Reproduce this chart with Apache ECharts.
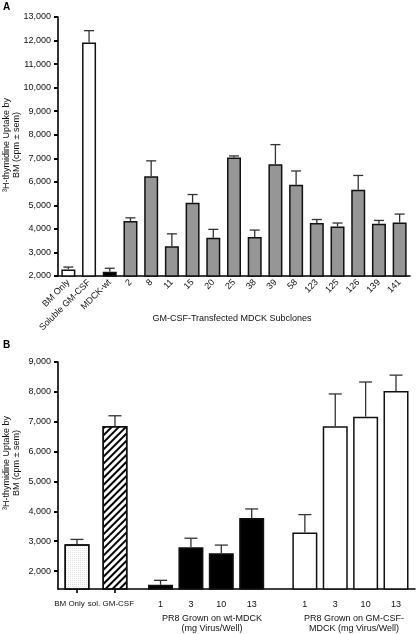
<!DOCTYPE html>
<html><head><meta charset="utf-8">
<script src="https://cdn.jsdelivr.net/npm/echarts@6/dist/echarts.min.js"></script>
<style>html,body{margin:0;padding:0;background:#fff}#c{width:416px;height:634px}</style>
</head><body><div id="c"></div>
<script>
// ---- Data: panel A ----
const catA = ['BM Only','Soluble GM-CSF','MDCK-wt','2','8','11','15','20','25','38','39','58','123','125','126','139','141'];
const valA = [2280,11920,2180,4340,6240,3260,5110,3620,7030,3660,6750,5880,4250,4100,5660,4220,4270];
const errA = [100,500,150,130,650,530,350,360,70,290,830,580,150,150,610,140,360];
const ticksA = [2000,3000,4000,5000,6000,7000,8000,9000,10000,11000,12000,13000];

// ---- Data: panel B ----
const catB = ['BM Only','sol. GM-CSF','1','3','10','13','1','3','10','13'];
const valB = [2900,6860,1540,2800,2600,3780,3290,6850,7170,8030];
const errB = [160,340,150,300,270,300,600,1080,1160,530];
const ticksB = [2000,3000,4000,5000,6000,7000,8000,9000];

// ---- Texts ----
const titleA = 'GM-CSF-Transfected MDCK Subclones';
const groupB1 = 'PR8 Grown on wt-MDCK\n(mg Virus/Well)';
const groupB2 = 'PR8 Grown on GM-CSF-\nMDCK (mg Virus/Well)';
const yName = '\u00B3H-thymidine Uptake by\nBM (cpm \u00B1 sem)';

// ---- Layout / styles (not data) ----
const FONT = "'Liberation Sans', Arial, sans-serif";
const fillA = ['white','white','black','gray','gray','gray','gray','gray','gray','gray','gray','gray','gray','gray','gray','gray','gray'];
const fillB = ['dots','hatch','black','black','black','black','white','white','white','white'];
const slotsB = 47;
const slotIdxB = [2,7,13,17,21,25,32,36,40,44];

function styleFor(kind){
  const s = {borderColor:'#111', borderWidth:1.5};
  if (kind==='white') s.color='#fff';
  else if (kind==='black') s.color='#000';
  else if (kind==='gray') s.color='#969696';
  else if (kind==='dots') { s.color='#fff'; s.decal={symbol:'rect',symbolSize:0.6,color:'#9a9a9a',dashArrayX:[1,1],dashArrayY:[1,1],rotation:0}; }
  else if (kind==='hatch') { s.color='#fff'; s.decal={symbol:'rect',symbolSize:1,color:'#000',dashArrayX:[1,0],dashArrayY:[1.2,2.8],rotation:-Math.PI/4}; }
  return s;
}

const fmt = v => v.toLocaleString('en-US');

const barA = valA.map((v,i)=>({value:v, itemStyle:styleFor(fillA[i])}));
const errDataA = valA.map((v,i)=>[i, v, errA[i]]);

const catBfull = new Array(slotsB).fill('');
const barB = new Array(slotsB).fill('-');
const errDataB = [];
slotIdxB.forEach((k,i)=>{
  catBfull[k] = catB[i];
  barB[k] = {value: valB[i], itemStyle: styleFor(fillB[i])};
  errDataB.push([k, valB[i], errB[i]]);
});

function errRender(capHalf){
  return function(params, api){
    const x = api.value(0), v = api.value(1), e = api.value(2);
    const p0 = api.coord([x, v]);
    const p1 = api.coord([x, v + e]);
    const st = {stroke:'#333', lineWidth:1.3};
    return {type:'group', children:[
      {type:'line', shape:{x1:p0[0],y1:p0[1],x2:p1[0],y2:p1[1]}, style:st},
      {type:'line', shape:{x1:p1[0]-capHalf,y1:p1[1],x2:p1[0]+capHalf,y2:p1[1]}, style:st}
    ]};
  };
}

const axisLine = {show:true, onZero:false, lineStyle:{color:'#000', width:1.6}};
const txt = {color:'#111', fontFamily:FONT, fontSize:9};

const option = {
  animation:false,
  backgroundColor:'#fff',
  textStyle:{fontFamily:FONT},
  grid:[
    {left:58, top:17, width:352, height:259},
    {left:58, top:362, width:357, height:227}
  ],
  xAxis:[
    {type:'category', gridIndex:0, data:catA, boundaryGap:true,
     axisLine:axisLine, axisTick:{show:false},
     axisLabel:Object.assign({interval:0, rotate:45, margin:5}, txt)},
    {type:'category', gridIndex:1, data:catBfull, boundaryGap:true,
     axisLine:axisLine,
     axisTick:{show:true, alignWithLabel:true, length:4, lineStyle:{width:1.6,color:'#000'},
       interval:(i)=> i===slotIdxB[0] || i===slotIdxB[1]},
     axisLabel:Object.assign({interval:0, margin:11,
       formatter:(v,i)=> i===slotIdxB[0] ? '{a|'+v+'}' : (i===slotIdxB[1] ? '{b|'+v+'}' : v),
       rich:{a:{fontSize:8,fontFamily:FONT,color:'#111',padding:[0,15,0,0]},
             b:{fontSize:8,fontFamily:FONT,color:'#111',padding:[0,8,0,0]}}}, txt)}
  ],
  yAxis:[
    {type:'value', gridIndex:0, min:2000, max:13000, interval:1000,
     splitLine:{show:false}, axisLine:axisLine,
     axisTick:{show:true, length:4, customValues:ticksA, lineStyle:{width:2,color:'#000'}},
     axisLabel:Object.assign({margin:7, formatter:fmt, customValues:ticksA}, txt)},
    {type:'value', gridIndex:1, min:1400, max:9000,
     splitLine:{show:false}, axisLine:axisLine,
     axisTick:{show:true, length:4, customValues:ticksB, lineStyle:{width:2,color:'#000'}},
     axisLabel:Object.assign({margin:7, formatter:fmt, customValues:ticksB}, txt)}
  ],
  series:[
    {type:'bar', xAxisIndex:0, yAxisIndex:0, data:barA, barWidth:14},
    {type:'custom', xAxisIndex:0, yAxisIndex:0, data:errDataA, renderItem:errRender(5), z:3},
    {type:'bar', xAxisIndex:1, yAxisIndex:1, data:barB, barWidth:25},
    {type:'custom', xAxisIndex:1, yAxisIndex:1, data:errDataB, renderItem:errRender(6.5), z:3}
  ],
  graphic:[
    {type:'text', left:3, top:2, style:{text:'A', font:'bold 10px '+FONT, fill:'#000'}},
    {type:'text', left:3, top:340, style:{text:'B', font:'bold 10px '+FONT, fill:'#000'}},
    {type:'text', x:12, y:145, rotation:Math.PI/2, style:{text:yName, font:'9px '+FONT, fill:'#111', align:'center', verticalAlign:'middle', lineHeight:10}},
    {type:'text', x:12, y:463, rotation:Math.PI/2, style:{text:yName, font:'9px '+FONT, fill:'#111', align:'center', verticalAlign:'middle', lineHeight:10}},
    {type:'text', x:232, y:319, style:{text:titleA, font:'9px '+FONT, fill:'#111', align:'center', verticalAlign:'middle'}},
    {type:'text', x:212, y:624, style:{text:groupB1, font:'9px '+FONT, fill:'#111', align:'center', verticalAlign:'middle', lineHeight:10}},
    {type:'text', x:354, y:624, style:{text:groupB2, font:'9px '+FONT, fill:'#111', align:'center', verticalAlign:'middle', lineHeight:10}}
  ]
};

const chart = echarts.init(document.getElementById('c'), null, {renderer:'canvas'});
chart.setOption(option);
</script></body></html>
